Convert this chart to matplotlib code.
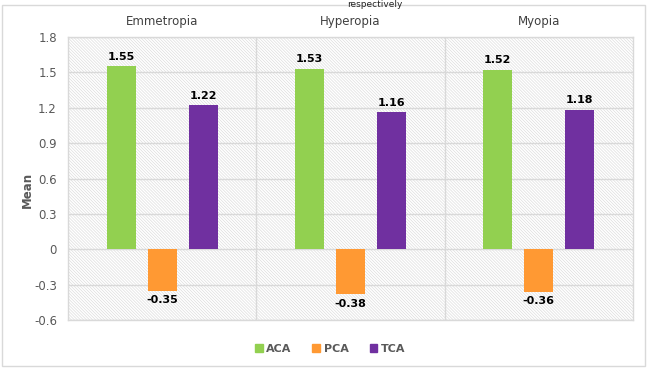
import matplotlib
matplotlib.use("Agg")
import matplotlib.pyplot as plt
from matplotlib.patches import Rectangle
import numpy as np

groups = ["Emmetropia", "Hyperopia", "Myopia"]
series = ["ACA", "PCA", "TCA"]
aca = [1.55, 1.53, 1.52]
pca = [-0.35, -0.38, -0.36]
tca = [1.22, 1.16, 1.18]
colors = ["#92d050", "#ff9933", "#7030a0"]
yticks = [-0.6, -0.3, 0, 0.3, 0.6, 0.9, 1.2, 1.5, 1.8]
ytick_labels = ["-0.6", "-0.3", "0", "0.3", "0.6", "0.9", "1.2", "1.5", "1.8"]

plt.rcParams['hatch.color'] = '#dadada'
plt.rcParams['hatch.linewidth'] = 0.45
plt.rcParams['font.family'] = ['DejaVu Sans']

W, H = 650, 368
fig = plt.figure(figsize=(W/100, H/100), dpi=100)
# outer border
fig.patches.append(Rectangle((2/W, 1 - 366/H), 643/W, 361/H, transform=fig.transFigure,
                             fill=False, edgecolor='#d9d9d9', linewidth=1.0))
fig.text(375/W, 1.0, "respectively", ha='center', va='top', fontsize=6.5, color='#222222')

left, right, top, bottom = 68, 633, 37, 320
ax = fig.add_axes([left/W, 1 - bottom/H, (right-left)/W, (bottom-top)/H])
ax.patch.set_facecolor('white')
ax.patch.set_hatch('\\' * 11)
ax.patch.set_edgecolor('#dadada')
ax.set_xlim(0, 3)
ax.set_ylim(-0.6, 1.8)
ax.set_yticks(yticks)
ax.set_yticklabels(ytick_labels, fontsize=8.5, color='#595959')
ax.set_xticks([])
ax.tick_params(axis='y', length=0, pad=8)
for s in ax.spines.values():
    s.set_color('#d9d9d9')
    s.set_linewidth(1.0)
for y in yticks:
    ax.axhline(y, color='#d9d9d9', linewidth=1.0, zorder=1)
for xv in [1, 2]:
    ax.axvline(xv, color='#d9d9d9', linewidth=1.0, zorder=1)

bw = 29/188
offsets = [-41/188, 0, 41/188]
data = [aca, pca, tca]
for si, (vals, c, off) in enumerate(zip(data, colors, offsets)):
    xs = np.arange(3) + 0.5 + off
    ax.bar(xs, vals, width=bw, color=c, zorder=3, label=series[si])
    for x, v in zip(xs, vals):
        if v >= 0:
            ax.text(x, v + 0.04, f"{v:.2f}", ha='center', va='bottom', fontsize=8, fontweight='bold', color='black', zorder=4)
        else:
            ax.text(x, v - 0.04, f"{v:.2f}", ha='center', va='top', fontsize=8, fontweight='bold', color='black', zorder=4)

for i, g in enumerate(groups):
    fig.text((left + (right-left) * (i + 0.5) / 3) / W, 1 - 21/H, g, ha='center', va='center',
             fontsize=8.5, color='#404040')

fig.text(27/W, 1 - 190/H, "Mean", rotation=90, ha='center', va='center', fontsize=8.5, fontweight='bold', color='#595959')

handles = [Rectangle((0, 0), 1, 1, color=c) for c in colors]
fig.legend(handles, series, loc='center', bbox_to_anchor=(330/W, 1 - 349/H), ncol=3, frameon=False,
           handlelength=0.7, handleheight=0.7, handletextpad=0.3, columnspacing=1.9,
           prop={'weight': 'bold', 'size': 8})
for t in fig.legends[0].get_texts():
    t.set_color('#595959')

fig.savefig("out.png", dpi=100)
